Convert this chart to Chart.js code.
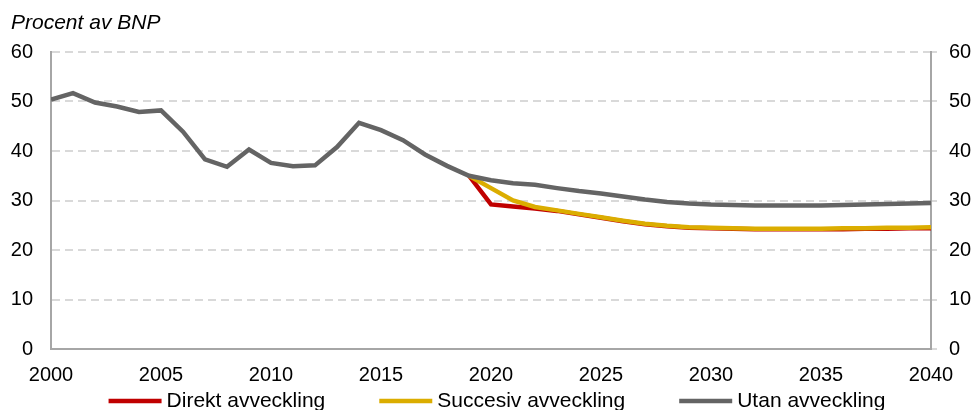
<!DOCTYPE html>
<html>
<head>
<meta charset="utf-8">
<script src="https://cdn.jsdelivr.net/npm/chart.js@4"></script>
<style>
  html, body { margin: 0; padding: 0; background: #fff; }
  #wrap { width: 976px; height: 410px; }
</style>
</head>
<body>
<div id="wrap"><canvas id="chart" width="976" height="410"></canvas></div>
<script>
const years = [];
for (let y = 2000; y <= 2040; y++) years.push(y);

// Utan avveckling, 2000-2040
const utan = [50.4, 51.7, 49.8, 49.0, 47.9, 48.2, 43.9, 38.3, 36.8, 40.3,
  37.6, 36.9, 37.1, 40.8, 45.7, 44.2, 42.2, 39.3, 37.0, 35.0,
  34.1, 33.5, 33.2, 32.5, 31.9, 31.4, 30.8, 30.2, 29.7, 29.4,
  29.2, 29.1, 29.0, 29.0, 29.0, 29.0, 29.1, 29.2, 29.3, 29.4, 29.5];

// scenarios start in 2019
const scenarioYears = years.slice(19);
const direkt = [35.0, 29.2, 28.8, 28.4, 27.9, 27.2, 26.5, 25.8, 25.2, 24.8,
  24.5, 24.4, 24.3, 24.2, 24.2, 24.2, 24.2, 24.2, 24.3, 24.3, 24.4, 24.4];
const succesiv = [35.0, 32.5, 30.0, 28.7, 28.0, 27.3, 26.6, 25.9, 25.3, 24.9,
  24.6, 24.5, 24.4, 24.3, 24.3, 24.3, 24.3, 24.4, 24.4, 24.5, 24.5, 24.6];

const yTicks = [0, 10, 20, 30, 40, 50, 60];
const xTicks = [2000, 2005, 2010, 2015, 2020, 2025, 2030, 2035, 2040];

const FONT = "'Liberation Sans', Arial, sans-serif";
const axisColor = '#a6a6a6';
const gridColor = '#d9d9d9';

function pts(xs, vals) {
  return xs.map((x, i) => ({ x: x, y: vals[i] }));
}

// title and legend drawn by hand, to get the spacing of the original
const extras = {
  id: 'extras',
  afterDraw(chart) {
    const ctx = chart.ctx;
    ctx.save();
    ctx.fillStyle = '#000';
    ctx.font = 'italic 21px ' + FONT;
    ctx.textBaseline = 'alphabetic';
    ctx.textAlign = 'left';
    ctx.fillText('Procent av BNP', 11, 29);

    ctx.font = '21px ' + FONT;
    ctx.textBaseline = 'middle';
    const lineLen = 53, gap = 5, itemGap = 54, yMid = 401;
    const items = chart.data.datasets.map(d => ({ label: d.label, color: d.borderColor }));
    let total = 0;
    items.forEach((it, i) => {
      it.w = ctx.measureText(it.label).width;
      total += lineLen + gap + it.w + (i < items.length - 1 ? itemGap : 0);
    });
    let x = 497 - total / 2;
    items.forEach(it => {
      ctx.strokeStyle = it.color;
      ctx.lineWidth = 4.5;
      ctx.beginPath();
      ctx.moveTo(x, yMid);
      ctx.lineTo(x + lineLen, yMid);
      ctx.stroke();
      x += lineLen + gap;
      ctx.fillText(it.label, x, yMid);
      x += it.w + itemGap;
    });
    ctx.restore();
  }
};

new Chart(document.getElementById('chart'), {
  type: 'line',
  data: {
    datasets: [{
      label: 'Direkt avveckling',
      data: pts(scenarioYears, direkt),
      borderColor: '#c00000',
      borderWidth: 4.5,
      pointRadius: 0,
      order: 3
    }, {
      label: 'Succesiv avveckling',
      data: pts(scenarioYears, succesiv),
      borderColor: '#dbad00',
      borderWidth: 4.5,
      pointRadius: 0,
      order: 2
    }, {
      label: 'Utan avveckling',
      data: pts(years, utan),
      borderColor: '#646464',
      borderWidth: 4.5,
      pointRadius: 0,
      order: 1
    }]
  },
  options: {
    responsive: false,
    animation: false,
    layout: { padding: { top: 52, bottom: 25, left: 0, right: 0 } },
    plugins: {
      legend: { display: false },
      title: { display: false },
      tooltip: { enabled: false }
    },
    scales: {
      x: {
        type: 'linear',
        min: 2000,
        max: 2040,
        afterFit: (s) => { s.height = 36; },
        afterBuildTicks: (s) => { s.ticks = xTicks.map(v => ({ value: v })); },
        grid: { display: false, drawTicks: false },
        border: { display: true, color: axisColor, width: 2 },
        ticks: {
          color: '#000',
          font: { family: FONT, size: 20 },
          padding: 14,
          maxRotation: 0,
          callback: (v) => String(v)
        }
      },
      y: {
        position: 'left',
        min: 0,
        max: 60,
        afterFit: (s) => { s.width = 51; },
        afterBuildTicks: (s) => { s.ticks = yTicks.map(v => ({ value: v })); },
        grid: {
          color: (c) => c.tick && c.tick.value === 0 ? 'rgba(0,0,0,0)' : gridColor,
          lineWidth: 2,
          drawTicks: false
        },
        border: { display: true, color: axisColor, width: 2, dash: [8, 5] },
        ticks: {
          color: '#000',
          font: { family: FONT, size: 20 },
          padding: 18
        }
      },
      y2: {
        position: 'right',
        min: 0,
        max: 60,
        afterFit: (s) => { s.width = 45; },
        afterBuildTicks: (s) => { s.ticks = yTicks.map(v => ({ value: v })); },
        grid: {
          drawOnChartArea: false,
          drawTicks: true,
          tickLength: 6,
          color: gridColor,
          lineWidth: 2
        },
        border: { display: true, color: axisColor, width: 2 },
        ticks: {
          color: '#000',
          font: { family: FONT, size: 20 },
          padding: 12
        }
      }
    }
  },
  plugins: [extras]
});
</script>
</body>
</html>
